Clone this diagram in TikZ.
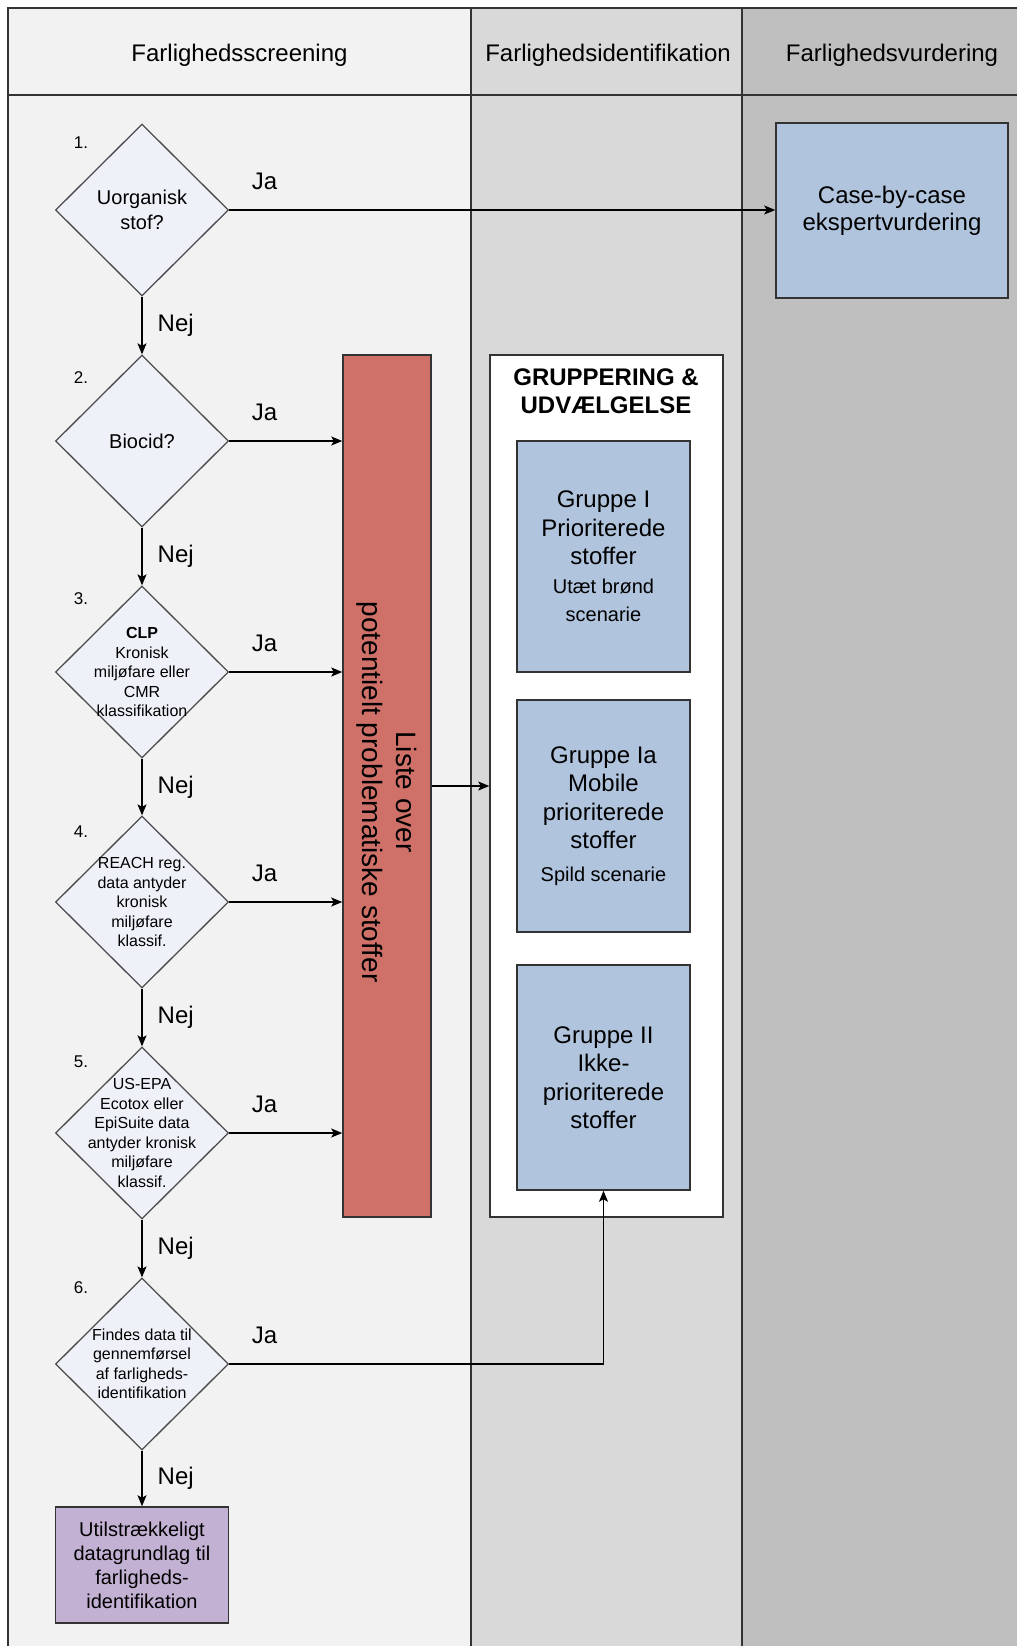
\documentclass[tikz,border=0pt]{standalone}
\usepackage{fontspec}
\setmainfont{Liberation Sans}
\usetikzlibrary{shapes.geometric}
\usetikzlibrary{arrows.meta}
\definecolor{laneA}{HTML}{F2F2F2}
\definecolor{laneB}{HTML}{D9D9D9}
\definecolor{laneC}{HTML}{BFBFBF}
\definecolor{qfill}{HTML}{EEF2F8}
\definecolor{grpblue}{HTML}{B0C4DE}
\definecolor{listred}{HTML}{CF7169}
\definecolor{nodata}{HTML}{C3B1D3}
\newcommand{\sz}[2]{\fontsize{#1}{#2}\selectfont}

\begin{document}
\begin{tikzpicture}[x=1pt, y=-1pt,
    lane/.style={rectangle, draw=black!80, line width=1.5pt, inner sep=0pt},
    lanetitle/.style={inner sep=0pt, font=\sz{24}{29}},
    question/.style={diamond, draw=black!70, line width=1.3pt, fill=qfill,
      minimum width=173pt, minimum height=172pt, inner sep=0pt},
    qtext/.style={align=center, inner sep=0pt, font=\sz{16}{19.5}},
    box/.style={rectangle, draw=black!80, line width=1.5pt, inner sep=0pt, align=center},
    flow/.style={line width=1.4pt, -{Stealth[length=11pt, width=9pt, inset=2.5pt]}},
    ja/.style={at start, anchor=south west, xshift=22pt, yshift=20pt, inner sep=0pt, font=\sz{24}{29}},
    nej/.style={anchor=west, xshift=15pt, inner sep=0pt, font=\sz{24}{29}},
    num/.style={inner sep=0pt, font=\sz{17}{20}}]
  \useasboundingbox (0,0) rectangle (1017,1646);

  % lanes
  \node[lane, fill=laneA, minimum width=463pt, minimum height=87pt] (h1) at (239.5,51.5) {};
  \node[lane, fill=laneB, minimum width=271pt, minimum height=87pt] (h2) at (606.5,51.5) {};
  \node[lane, fill=laneC, minimum width=300pt, minimum height=87pt] (h3) at (892,51.5) {};
  \node[lanetitle] (h1t) at (239.5,55.5) {Farlighedsscreening};
  \node[lanetitle] (h2t) at (608,55.5) {Farlighedsidentifikation};
  \node[lanetitle] (h3t) at (892,55.5) {Farlighedsvurdering};
  \node[lane, fill=laneA, minimum width=463pt, minimum height=1565pt] (l1) at (239.5,877.5) {};
  \node[lane, fill=laneB, minimum width=271pt, minimum height=1565pt] (l2) at (606.5,877.5) {};
  \node[lane, fill=laneC, minimum width=300pt, minimum height=1565pt] (l3) at (892,877.5) {};

  % screening questions
  \node[question] (q1) at (142,210) {};
  \node[question] (q2) at (142,441) {};
  \node[question] (q3) at (142,672) {};
  \node[question] (q4) at (142,902) {};
  \node[question] (q5) at (142,1133) {};
  \node[question] (q6) at (142,1364) {};
  \node[qtext, font=\sz{20}{25}] (q1t) at (q1) {Uorganisk\\stof?};
  \node[qtext, font=\sz{20}{25}] (q2t) at (q2) {Biocid?};
  \node[qtext] (q3t) at (q3) {\textbf{CLP}\\Kronisk\\miljøfare eller\\CMR\\klassifikation};
  \node[qtext] (q4t) at (q4) {REACH reg.\\data antyder\\kronisk\\miljøfare\\klassif.};
  \node[qtext] (q5t) at (q5) {US-EPA\\Ecotox eller\\EpiSuite data\\antyder kronisk\\miljøfare\\klassif.};
  \node[qtext] (q6t) at (q6) {Findes data til\\gennemførsel\\af farligheds-\\identifikation};
  \node[num] (n1) at (81,143) {1.};
  \node[num] (n2) at (81,378) {2.};
  \node[num] (n3) at (81,599) {3.};
  \node[num] (n4) at (81,832) {4.};
  \node[num] (n5) at (81,1062) {5.};
  \node[num] (n6) at (81,1288) {6.};

  % boxes
  \node[box, fill=grpblue, minimum width=232pt, minimum height=175pt, font=\sz{24}{27}] (expert) at (892,210.5) {Case-by-case\\ekspertvurdering};
  \node[box, fill=listred, minimum width=88pt, minimum height=862pt] (liste) at (387,786) {};
  \node[rotate=-90, align=center, inner sep=0pt, font=\sz{28}{34}] (listet) at (387,792) {Liste over\\potentielt problematiske stoffer};
  \node[box, fill=white, minimum width=233pt, minimum height=862pt] (grp) at (606.5,786) {};
  \node[align=center, inner sep=0pt, font=\bfseries\sz{24}{28}] (grpt) at (606,391) {GRUPPERING \&\\UDVÆLGELSE};
  \node[box, fill=grpblue, minimum width=173pt, minimum height=231pt, font=\sz{24}{28.5}] (g1) at (603.5,556.5)
    {Gruppe I\\Prioriterede\\stoffer\\{\sz{20}{28}Utæt brønd}\\{\sz{20}{28}scenarie}};
  \node[box, fill=grpblue, minimum width=173pt, minimum height=232pt, font=\sz{24}{28.5}] (g2) at (603.5,816)
    {Gruppe Ia\\Mobile\\prioriterede\\stoffer\\[4pt]{\sz{20}{28}Spild scenarie}};
  \node[box, fill=grpblue, minimum width=173pt, minimum height=225pt, font=\sz{24}{28.5}] (g3) at (603.5,1077.5)
    {Gruppe II\\Ikke-\\prioriterede\\stoffer};
  \node[box, fill=nodata, minimum width=173pt, minimum height=116pt, font=\sz{20}{24}] (nodat) at (142,1565)
    {Utilstrækkeligt\\datagrundlag til\\farligheds-\\identifikation};

  % connectors
  \draw[flow] (q1.east) -- node[ja] {Ja} (q1.east -| expert.west);
  \draw[flow] (q1.south) -- node[nej] {Nej} (q2.north);
  \draw[flow] (q2.east) -- node[ja] {Ja} (q2.east -| liste.west);
  \draw[flow] (q2.south) -- node[nej] {Nej} (q3.north);
  \draw[flow] (q3.east) -- node[ja] {Ja} (q3.east -| liste.west);
  \draw[flow] (q3.south) -- node[nej] {Nej} (q4.north);
  \draw[flow] (q4.east) -- node[ja] {Ja} (q4.east -| liste.west);
  \draw[flow] (q4.south) -- node[nej] {Nej} (q5.north);
  \draw[flow] (q5.east) -- node[ja] {Ja} (q5.east -| liste.west);
  \draw[flow] (q5.south) -- node[nej] {Nej} (q6.north);
  \draw[flow] (q6.east) -| node[ja] {Ja} (g3.south);
  \draw[flow] (q6.south) -- node[nej] {Nej} (nodat.north);
  \draw[flow] (liste.east) -- (grp.west);
\end{tikzpicture}
\end{document}
